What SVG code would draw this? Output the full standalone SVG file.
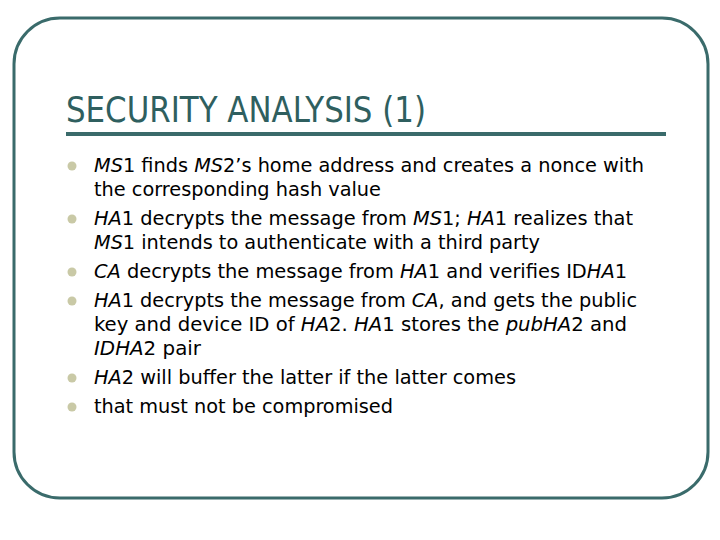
<svg xmlns="http://www.w3.org/2000/svg" width="720" height="540" viewBox="0 0 720 540">
<style>
.t{font-family:"DejaVu Sans Condensed","DejaVu Sans",sans-serif;font-size:20px;fill:#000}
.i{font-style:italic}
.b{fill:#c9c9a6}
</style>
<rect width="720" height="540" fill="#fff"/>
<g id="frame">
<rect x="14" y="18" width="694" height="480" rx="46" ry="46" fill="none" stroke="#3a6b6b" stroke-width="3"/>
</g>
<g id="title">
<text x="66" y="122" style="font-family:'DejaVu Sans Condensed',sans-serif;font-size:36px;fill:#2f5f5f" textLength="360" lengthAdjust="spacingAndGlyphs">SECURITY ANALYSIS (1)</text>
<rect x="66" y="132" width="600" height="4" fill="#3a6b6b"/>
</g>
<g id="bullets">
<circle class="b" cx="72" cy="166" r="4.5"/>
<circle class="b" cx="72" cy="219" r="4.5"/>
<circle class="b" cx="72" cy="272" r="4.5"/>
<circle class="b" cx="72" cy="301" r="4.5"/>
<circle class="b" cx="72" cy="378" r="4.5"/>
<circle class="b" cx="72" cy="407" r="4.5"/>
<text class="t" x="94" y="172" textLength="550" lengthAdjust="spacingAndGlyphs"><tspan class="i">MS</tspan>1 finds <tspan class="i">MS</tspan>2’s home address and creates a nonce with</text>
<text class="t" x="94" y="196" textLength="287" lengthAdjust="spacingAndGlyphs">the corresponding hash value</text>
<text class="t" x="94" y="225" textLength="539" lengthAdjust="spacingAndGlyphs"><tspan class="i">HA</tspan>1 decrypts the message from <tspan class="i">MS</tspan>1; <tspan class="i">HA</tspan>1 realizes that</text>
<text class="t" x="94" y="249" textLength="446" lengthAdjust="spacingAndGlyphs"><tspan class="i">MS</tspan>1 intends to authenticate with a third party</text>
<text class="t" x="94" y="278" textLength="533" lengthAdjust="spacingAndGlyphs"><tspan class="i">CA</tspan> decrypts the message from <tspan class="i">HA</tspan>1 and verifies ID<tspan class="i">HA</tspan>1</text>
<text class="t" x="94" y="307" textLength="543" lengthAdjust="spacingAndGlyphs"><tspan class="i">HA</tspan>1 decrypts the message from <tspan class="i">CA</tspan>, and gets the public</text>
<text class="t" x="94" y="331" textLength="533" lengthAdjust="spacingAndGlyphs">key and device ID of <tspan class="i">HA</tspan>2. <tspan class="i">HA</tspan>1 stores the <tspan class="i">pubHA</tspan>2 and</text>
<text class="t" x="94" y="355" textLength="107" lengthAdjust="spacingAndGlyphs"><tspan class="i">IDHA</tspan>2 pair</text>
<text class="t" x="94" y="384" textLength="422" lengthAdjust="spacingAndGlyphs"><tspan class="i">HA</tspan>2 will buffer the latter if the latter comes</text>
<text class="t" x="94" y="413" textLength="299" lengthAdjust="spacingAndGlyphs">that must not be compromised</text>
</g>
</svg>
